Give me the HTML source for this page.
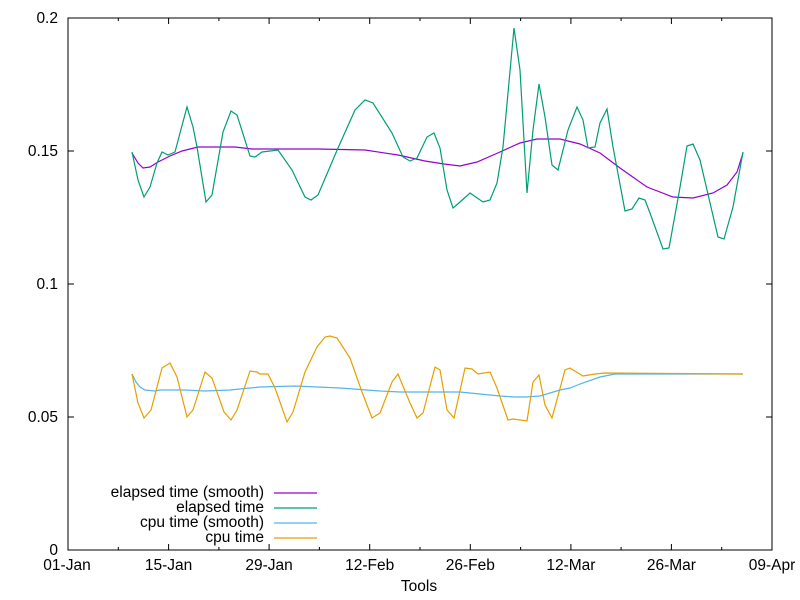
<!DOCTYPE html>
<html><head><meta charset="utf-8"><style>body{margin:0;background:#fff}svg{display:block}text{font-family:"Liberation Sans",sans-serif;font-size:15.5px;fill:#000}</style></head><body>
<svg width="800" height="600" viewBox="0 0 800 600">
<rect x="68" y="18" width="704" height="532" fill="none" stroke="#000" stroke-width="1"/>
<g stroke="#000" stroke-width="1">
<path d="M68 550h6M772 550h-6M68 417h6M772 417h-6M68 284h6M772 284h-6M68 151h6M772 151h-6M68 18h6M772 18h-6"/>
<path d="M68 550v-6M68 18v6M168.6 550v-6M168.6 18v6M269.1 550v-6M269.1 18v6M369.7 550v-6M369.7 18v6M470.3 550v-6M470.3 18v6M570.9 550v-6M570.9 18v6M671.4 550v-6M671.4 18v6M772 550v-6M772 18v6"/>
<path d="M118.3 550v-3M118.3 18v3M218.9 550v-3M218.9 18v3M319.4 550v-3M319.4 18v3M420 550v-3M420 18v3M520.6 550v-3M520.6 18v3M621.1 550v-3M621.1 18v3M721.7 550v-3M721.7 18v3"/>
</g>
<g text-anchor="end">
<text x="58" y="555">0</text><text x="58" y="422">0.05</text><text x="58" y="289">0.1</text><text x="58" y="156">0.15</text><text x="58" y="23">0.2</text>
</g>
<g text-anchor="middle">
<text x="67" y="570">01-Jan</text><text x="168.6" y="570">15-Jan</text><text x="269.1" y="570">29-Jan</text><text x="369.7" y="570">12-Feb</text><text x="470.3" y="570">26-Feb</text><text x="570.9" y="570">12-Mar</text><text x="671.4" y="570">26-Mar</text><text x="772" y="570">09-Apr</text>
<text x="419" y="591">Tools</text>
</g>
<g fill="none" stroke-width="1.2">
<polyline stroke="#9400d3" points="132,153 138,163 143,168 150,167 158,162 170,156 182,151 198,147 235,147 252,149 318,149 365,150 398,155 425,161 444,164 460,166 477,162 500,152 520,143 537,139 560,139 580,144 600,153 620,168 647,187 673,197 693,198 713,193 727,185 737,172 743,153"/>
<polyline stroke="#009e73" points="132,152 138,180 144,197 150,187 157,163 162,152 168,155 175,152 180,133 187,107 193,127 197,147 206,202 212,195 223,132 231,111 237,115 250,156 255,157 262,152 278,150 292,170 305,197 311,200 318,195 338,148 355,110 365,100 373,103 392,133 403,157 410,161 417,158 427,137 434,133 440,148 447,190 453,208 460,202 470,193 483,202 490,200 497,183 503,147 514,28 520,70 527,193 533,130 539,84 545,117 552,165 558,170 568,130 577,107 583,120 588,148 595,147 600,123 607,109 613,147 625,211 632,209 639,198 645,200 650,213 663,249 669,248 679,193 687,146 693,144 700,160 707,190 718,237 724,239 733,207 743,152"/>
<polyline stroke="#56b4e9" points="132,374 136,382 140,387 145,390 155,391 160,390 185,390 205,391 230,390 260,387 295,386 340,388 380,391 400,392 460,392 480,394 500,396 515,397 525,397 540,396 560,390 570,388 580,384 600,377 615,374 743,374"/>
<polyline stroke="#e69f00" points="132,374 138,403 144,418 151,410 162,368 170,363 177,377 187,417 193,410 205,372 212,378 224,412 231,420 237,410 250,371 257,372 260,374 268,374 275,388 287,422 293,412 305,372 317,347 325,337 330,336 337,338 350,358 362,392 372,418 380,413 392,382 398,374 410,403 417,418 423,413 435,367 440,370 447,410 454,418 465,368 472,369 478,374 490,372 497,388 508,420 513,419 527,421 533,382 539,375 545,405 552,418 565,370 570,368 583,376 595,374 605,373 743,374"/>
</g>
<g text-anchor="end">
<text x="264" y="497">elapsed time (smooth)</text>
<text x="264" y="512">elapsed time</text>
<text x="264" y="527">cpu time (smooth)</text>
<text x="264" y="542">cpu time</text>
</g>
<g stroke-width="1.2">
<line x1="274" y1="493" x2="317" y2="493" stroke="#9400d3"/>
<line x1="274" y1="508" x2="317" y2="508" stroke="#009e73"/>
<line x1="274" y1="523" x2="317" y2="523" stroke="#56b4e9"/>
<line x1="274" y1="538" x2="317" y2="538" stroke="#e69f00"/>
</g>
</svg>
</body></html>
